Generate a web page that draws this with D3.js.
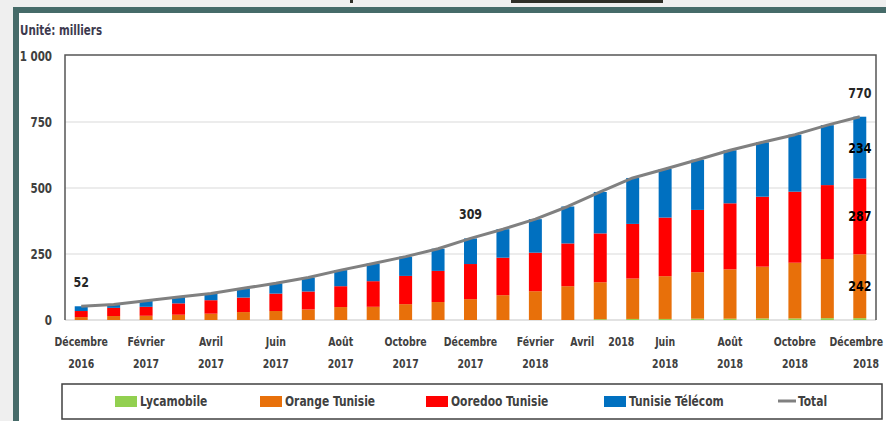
<!DOCTYPE html>
<html>
<head>
<meta charset="utf-8">
<script src="https://cdn.jsdelivr.net/npm/d3@7"></script>
<style>
  html, body { margin: 0; padding: 0; background: #efefef; }
  svg { display: block; }
  text { font-family: "Liberation Sans Narrow", "DejaVu Sans Condensed", "Liberation Sans", sans-serif; font-weight: bold; }
</style>
</head>
<body>
<div class="graph"></div>
<script>
'use strict'

// months from Dec 2016 to Dec 2018
const months = [
  'Déc 2016', 'Jan 2017', 'Fév 2017', 'Mar 2017', 'Avr 2017', 'Mai 2017', 'Juin 2017',
  'Juil 2017', 'Août 2017', 'Sep 2017', 'Oct 2017', 'Nov 2017', 'Déc 2017',
  'Jan 2018', 'Fév 2018', 'Mar 2018', 'Avr 2018', 'Mai 2018', 'Juin 2018',
  'Juil 2018', 'Août 2018', 'Sep 2018', 'Oct 2018', 'Nov 2018', 'Déc 2018'
]

// values in thousands
const lycamobile = [0, 0, 0, 0, 0, 0, 0, 0, 0, 0, 0, 0, 0, 0, 0, 0, 3, 4, 4, 5, 5, 6, 6, 7, 7]
const orangeTunisie = [11, 15, 16, 20, 24, 30, 34, 40, 49, 50, 60, 68, 79, 94, 109, 128, 140, 153, 162, 176, 187, 196, 211, 224, 242]
const ooredooTunisie = [23, 31, 34, 43, 51, 55, 66, 68, 79, 97, 107, 118, 133, 142, 146, 162, 185, 207, 222, 236, 250, 265, 269, 280, 287]
const tunisieTelecom = [18, 13, 23, 24, 25, 35, 39, 53, 61, 67, 73, 84, 97, 108, 127, 140, 157, 174, 184, 190, 201, 206, 216, 227, 234]

// x tick labels (every other month) : [line 1, line 2]
const tickLabels = [
  ['Décembre', '2016'], ['Février', '2017'], ['Avril', '2017'], ['Juin', '2017'],
  ['Août', '2017'], ['Octobre', '2017'], ['Décembre', '2017'], ['Février', '2018'],
  ['Avril 2018', ''], ['Juin', '2018'], ['Août', '2018'], ['Octobre', '2018'], ['Décembre', '2018']
]
const yTicks = [0, 250, 500, 750, 1000]

const seriesNames = ['Lycamobile', 'Orange Tunisie', 'Ooredoo Tunisie', 'Tunisie Télécom']
const seriesValues = [lycamobile, orangeTunisie, ooredooTunisie, tunisieTelecom]
const barColors = ['#92d050', '#e8700a', '#ff0000', '#0070c0']
const lineColor = '#808080'

// labelled points on the total line
const totalLabelIdx = [0, 12, 24]

// narrow the text horizontally (reference font is a condensed one)
function squeeze(sel, f) {
  sel.each(function () {
    const w = this.getComputedTextLength()
    if (w > 0) d3.select(this).attr('textLength', w * f).attr('lengthAdjust', 'spacingAndGlyphs')
  })
}

;(function (d3) {
  const W = 886, H = 421
  const plot = { left: 65, right: 876, top: 56, bottom: 320 }

  const svg = d3.select('.graph').append('svg')
    .attr('width', W)
    .attr('height', H)

  // frame
  svg.append('rect').attr('x', 0).attr('y', 0).attr('width', W).attr('height', H).attr('fill', '#efefef')
  svg.append('rect').attr('x', 19).attr('y', 13).attr('width', W - 19).attr('height', H - 13).attr('fill', '#ffffff')
  svg.append('rect').attr('x', 13).attr('y', 7).attr('width', W - 13).attr('height', 6).attr('fill', '#466b69')
  svg.append('rect').attr('x', 13).attr('y', 7).attr('width', 6).attr('height', H - 7).attr('fill', '#466b69')
  // remnants of the cropped title
  svg.append('rect').attr('x', 511).attr('y', 0).attr('width', 152).attr('height', 3).attr('fill', '#2f2f28')
  svg.append('rect').attr('x', 350).attr('y', 0).attr('width', 3).attr('height', 3).attr('fill', '#2f2f28')

  // table of stacked data
  const table = months.map((m, i) => {
    const row = { month: m }
    seriesNames.forEach((s, k) => { row[s] = seriesValues[k][i] })
    row.total = seriesNames.reduce((acc, s) => acc + row[s], 0)
    return row
  })

  const xScale = d3.scaleBand()
    .domain(months)
    .range([plot.left, plot.right])
    .paddingInner(0.6)
    .paddingOuter(0.3)

  const yScale = d3.scaleLinear()
    .domain([0, 1000])
    .range([plot.bottom, plot.top])

  // gridlines
  svg.append('g')
    .selectAll('line')
    .data(yTicks.slice(1, -1))
    .join('line')
    .attr('x1', plot.left).attr('x2', plot.right)
    .attr('y1', d => yScale(d)).attr('y2', d => yScale(d))
    .attr('stroke', '#d9d9d9')
    .attr('stroke-width', 1.2)

  svg.append('line')
    .attr('x1', plot.left).attr('x2', plot.right)
    .attr('y1', plot.bottom).attr('y2', plot.bottom)
    .attr('stroke', '#d9d9d9').attr('stroke-width', 1.5)

  // border of plot area
  svg.append('path')
    .attr('d', `M${plot.left},${plot.bottom}V${plot.top - 1}H${plot.right}V${plot.bottom}`)
    .attr('fill', 'none')
    .attr('stroke', '#555555')
    .attr('stroke-width', 1.5)

  // y axis
  const yAxis = svg.append('g')
    .attr('transform', `translate(${plot.left},0)`)
    .call(d3.axisLeft(yScale).tickValues(yTicks).tickSize(0).tickPadding(13)
      .tickFormat(d => d3.format(',')(d).replace(',', ' ')))
  yAxis.select('.domain').remove()
  yAxis.selectAll('text')
    .style('font-size', '13.5px')
    .style('font-family', '"Liberation Sans Narrow", "DejaVu Sans Condensed", sans-serif')
    .style('font-weight', 'bold')
    .attr('fill', '#404040')
  squeeze(yAxis.selectAll('text'), 0.85)

  const unit = svg.append('text')
    .attr('x', 20).attr('y', 35)
    .style('font-size', '13.5px')
    .attr('fill', '#3d3a4f')
    .text('Unité: milliers')
  squeeze(unit, 0.85)

  // x axis labels
  const xTicks = months.filter((m, i) => i % 2 === 0)
  const xAxis = svg.append('g')
    .attr('transform', `translate(0,${plot.bottom})`)
    .call(d3.axisBottom(xScale).tickValues(xTicks).tickSize(0).tickFormat(''))
  xAxis.select('.domain').remove()
  xAxis.selectAll('.tick text').remove()
  xAxis.selectAll('.tick')
    .each(function (d, i) {
      const g = d3.select(this)
      const tickX = xScale(d) + xScale.bandwidth() / 2
      const lines = tickLabels[i]
      const add = (txt, x, y, anchor) => g.append('text')
        .attr('x', x).attr('y', y)
        .attr('text-anchor', anchor)
        .attr('fill', '#404040')
        .style('font-size', '13px')
        .text(txt)
      if (lines[1] === '') {
        const parts = lines[0].split(' ')
        add(parts[0], -6, 26, 'end')
        add(parts[1], 8, 26, 'start')
      } else {
        // last label sits against the right edge of the page
        const edge = tickX + 26 > W - 3
        const x = edge ? W - 3 - tickX : 0
        const a = edge ? 'end' : 'middle'
        add(lines[0], x, 26, a)
        add(lines[1], edge ? x - 4 : 0, 48, a)
      }
    })
  squeeze(xAxis.selectAll('text'), 0.8)

  // stacked bars
  const stacked = d3.stack().keys(seriesNames)(table)
  svg.append('g')
    .selectAll('g')
    .data(stacked)
    .join('g')
    .attr('fill', (d, k) => barColors[k])
    .selectAll('rect')
    .data(d => d)
    .join('rect')
    .attr('x', d => xScale(d.data.month))
    .attr('width', xScale.bandwidth())
    .attr('y', d => yScale(d[1]))
    .attr('height', d => yScale(d[0]) - yScale(d[1]))

  // total line
  const line = d3.line()
    .x(d => xScale(d.month) + xScale.bandwidth() / 2)
    .y(d => yScale(d.total))
  svg.append('path')
    .datum(table)
    .attr('d', line)
    .attr('fill', 'none')
    .attr('stroke', lineColor)
    .attr('stroke-width', 3)
    .attr('stroke-linejoin', 'round')

  const totals = svg.append('g')
    .selectAll('text')
    .data(totalLabelIdx.map(i => table[i]))
    .join('text')
    .attr('x', d => xScale(d.month) + xScale.bandwidth() / 2)
    .attr('y', d => yScale(d.total) - 19)
    .attr('text-anchor', 'middle')
    .attr('fill', '#262626')
    .style('font-size', '14.5px')
    .text(d => d.total)
  squeeze(totals, 0.85)

  // labels inside the last bar
  const last = stacked.map(s => s[s.length - 1]).slice(1)
  const inner = svg.append('g')
    .selectAll('text')
    .data(last)
    .join('text')
    .attr('x', d => xScale(d.data.month) + xScale.bandwidth() / 2)
    .attr('y', d => (yScale(d[0]) + yScale(d[1])) / 2 + 5)
    .attr('text-anchor', 'middle')
    .attr('fill', '#000000')
    .style('font-size', '14.5px')
    .text(d => d[1] - d[0])
  squeeze(inner, 0.85)

  // legend
  const legend = svg.append('g')
  legend.append('rect')
    .attr('x', 62).attr('y', 384).attr('width', 820).attr('height', 35)
    .attr('fill', '#ffffff').attr('stroke', '#404040').attr('stroke-width', 1.5)

  const legendX = [115, 260, 426, 604]
  seriesNames.forEach((s, k) => {
    legend.append('rect')
      .attr('x', legendX[k]).attr('y', 396).attr('width', 22).attr('height', 11)
      .attr('fill', barColors[k])
    legend.append('text')
      .attr('x', legendX[k] + 25).attr('y', 406)
      .attr('fill', '#404040')
      .style('font-size', '14px')
      .text(s)
  })
  legend.append('line')
    .attr('x1', 778).attr('x2', 796).attr('y1', 401).attr('y2', 401)
    .attr('stroke', lineColor).attr('stroke-width', 3)
  legend.append('text')
    .attr('x', 798).attr('y', 406)
    .attr('fill', '#404040')
    .style('font-size', '14px')
    .text('Total')
  squeeze(legend.selectAll('text'), 0.85)
})(d3)
</script>
</body>
</html>
